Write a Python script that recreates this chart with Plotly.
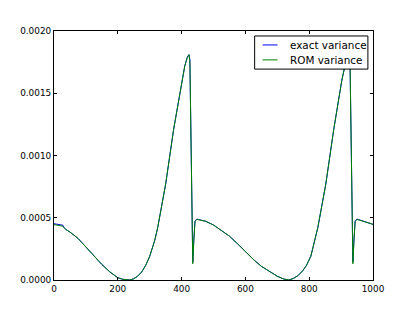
import plotly.graph_objects as go

# Shared x positions
x_vals = [0, 10, 20, 25, 28, 32, 36, 50, 75, 100, 125, 150, 175, 200, 215, 228, 238, 250,
          262, 275, 288, 300, 316, 325, 350, 375, 400, 410, 418, 423, 426, 430, 435, 438, 442, 448,
          475, 500, 525, 550, 575, 600, 625, 650, 675, 700, 720, 736, 750, 765, 780, 792, 805,
          827, 852, 877, 902, 912, 920, 925, 928, 932, 937, 940, 944, 950, 975, 1000]

rom_variance = [0.000445, 0.000442, 0.000440, 0.000438, 0.000432, 0.000418, 0.000408, 0.000385,
                0.000335, 0.000265, 0.000195, 0.000125, 0.000065, 0.000018, 0.000006, 0.000001,
                0.0, 0.000010, 0.000030, 0.000065, 0.000120, 0.000190, 0.000320, 0.000420,
                0.000770, 0.001210, 0.001600, 0.001720, 0.001790, 0.001810, 0.001760, 0.000950,
                0.000130, 0.000300, 0.000470, 0.000487, 0.000472, 0.000442, 0.000400, 0.000352,
                0.000292, 0.000225, 0.000165, 0.000110, 0.000068, 0.000030, 0.000008, 0.0,
                0.000012, 0.000035, 0.000075, 0.000120, 0.000190, 0.000420, 0.000770, 0.001210,
                0.001600, 0.001720, 0.001780, 0.001800, 0.001750, 0.000950, 0.000130, 0.000300,
                0.000470, 0.000487, 0.000470, 0.000447]

exact_variance = [0.000452, 0.000448, 0.000444, 0.000446, 0.000440, 0.000420, 0.000408, 0.000385,
                  0.000335, 0.000265, 0.000195, 0.000125, 0.000065, 0.000018, 0.000006, 0.000001,
                  0.0, 0.000010, 0.000030, 0.000065, 0.000120, 0.000190, 0.000320, 0.000420,
                  0.000770, 0.001210, 0.001600, 0.001720, 0.001790, 0.001810, 0.001770, 0.000980,
                  0.000145, 0.000310, 0.000475, 0.000489, 0.000472, 0.000442, 0.000400, 0.000352,
                  0.000292, 0.000225, 0.000165, 0.000110, 0.000068, 0.000030, 0.000008, 0.0,
                  0.000012, 0.000035, 0.000075, 0.000120, 0.000190, 0.000420, 0.000770, 0.001210,
                  0.001600, 0.001720, 0.001780, 0.001800, 0.001760, 0.000980, 0.000145, 0.000310,
                  0.000475, 0.000489, 0.000470, 0.000447]

series_names = ["exact variance", "ROM variance"]
series_colors = ["#0000ff", "#008000"]

x_ticks = [0, 200, 400, 600, 800, 1000]
y_ticks = [0.0, 0.0005, 0.0010, 0.0015, 0.0020]
y_tick_labels = ["0.0000", "0.0005", "0.0010", "0.0015", "0.0020"]

font = dict(family="DejaVu Sans", size=8.9, color="black")
legend_font = dict(family="DejaVu Sans", size=10.4, color="black")

fig = go.Figure()
for name, ys, col in zip(series_names, [exact_variance, rom_variance], series_colors):
    fig.add_trace(go.Scatter(x=x_vals, y=ys, mode="lines", name=name,
                             line=dict(color=col, width=1), showlegend=False))

axis_common = dict(showgrid=False, zeroline=False, showline=True, linecolor="black",
                   linewidth=1, mirror="ticks", ticks="inside", ticklen=3, tickwidth=1,
                   tickcolor="black", tickfont=font)

# Manual legend (matplotlib style, compact box)
shapes = [dict(type="rect", xref="paper", yref="paper", x0=0.629, x1=0.984, y0=0.847, y1=0.980,
               line=dict(color="black", width=1), fillcolor="white", layer="above")]
annotations = []
for i, (name, col) in enumerate(zip(series_names, series_colors)):
    yy = 0.944 - i * 0.060
    shapes.append(dict(type="line", xref="paper", yref="paper", x0=0.654, x1=0.701, y0=yy, y1=yy,
                       line=dict(color=col, width=1), layer="above"))
    annotations.append(dict(xref="paper", yref="paper", x=0.733, y=yy, text=name,
                            showarrow=False, xanchor="left", yanchor="middle", font=legend_font))

fig.update_layout(
    width=407, height=304,
    margin=dict(l=44, r=42, t=23, b=32),
    paper_bgcolor="white", plot_bgcolor="white",
    font=font,
    xaxis=dict(range=[0, 1000], tickvals=x_ticks, ticktext=[str(v) for v in x_ticks], **axis_common),
    yaxis=dict(range=[0, 0.002], tickvals=y_ticks, ticktext=y_tick_labels, **axis_common),
    shapes=shapes, annotations=annotations,
    showlegend=False,
)

fig.write_html("out.html")
